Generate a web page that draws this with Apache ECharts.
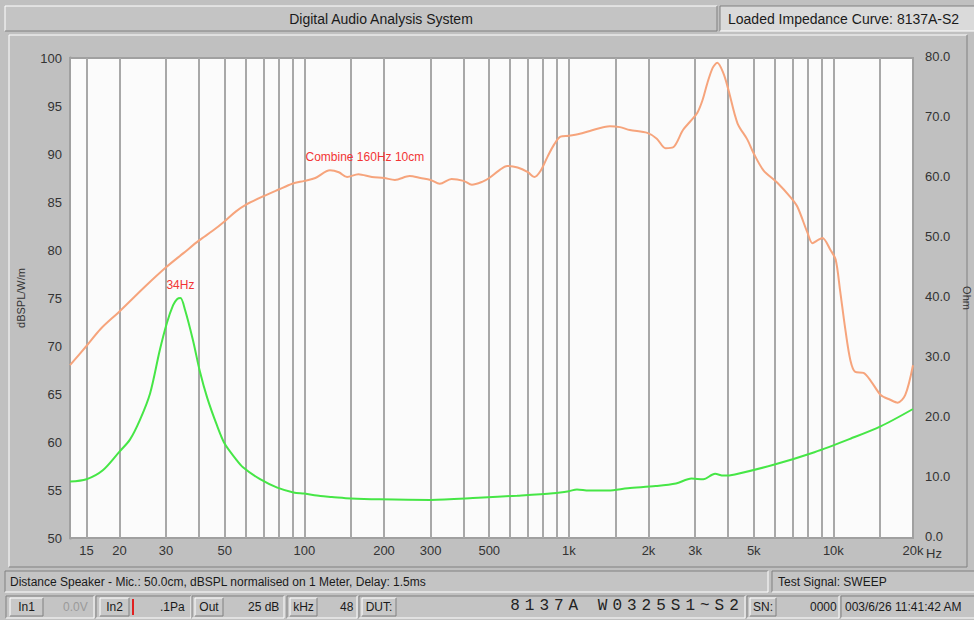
<!DOCTYPE html>
<html>
<head>
<meta charset="utf-8">
<script src="https://cdn.jsdelivr.net/npm/echarts@6/dist/echarts.min.js"></script>
<style>
  html, body { margin: 0; padding: 0; background: #c0c0c0; }
  #chart { width: 974px; height: 620px; }
</style>
</head>
<body>
<div id="chart"></div>
<script>
// Frequency response (dBSPL/W/m) of the combined driver
const splFreq = [13, 15, 17, 20, 25, 30, 35, 40, 45, 50, 55, 60, 70, 80, 90, 100, 110, 125, 135, 145,
  160, 180, 200, 220, 250, 275, 300, 325, 360, 400, 430, 470, 500, 545, 585, 640, 700, 740, 780, 830,
  880, 930, 1000, 1100, 1200, 1430, 1560, 1700, 1980, 2150, 2320, 2480, 2700, 2900, 3060, 3200, 3340,
  3500, 3640, 3840, 4010, 4340, 4730, 4990, 5440, 6140, 6880, 7310, 7980, 8340, 8700, 9090, 9750,
  10200, 10600, 11100, 11600, 12100, 13000, 13900, 15100, 16400, 17500, 18700, 20000];
const splDb = [68.0, 70.0, 71.8, 73.6, 76.2, 78.2, 79.7, 81.0, 82.0, 83.0, 84.0, 84.7, 85.6, 86.3, 86.9, 87.2, 87.5, 88.3, 88.1, 87.6,
  87.9, 87.6, 87.5, 87.3, 87.7, 87.5, 87.3, 86.9, 87.4, 87.2, 86.8, 87.1, 87.5, 88.3, 88.75, 88.6, 88.1, 87.6, 88.2, 89.7,
  91.0, 91.8, 91.9, 92.1, 92.4, 92.9, 92.8, 92.5, 92.2, 91.6, 90.6, 90.7, 92.5, 93.5, 94.3, 95.6, 97.4,
  99.0, 99.5, 98.4, 96.7, 93.2, 91.5, 90.1, 88.3, 87.0, 85.5, 84.5, 81.8, 80.7, 81.0, 81.25, 80.0,
  79.0, 75.8, 71.7, 68.5, 67.3, 67.2, 66.3, 64.9, 64.4, 64.1, 64.9, 68.0];

// Loaded impedance (Ohm)
const impFreq = [13, 15, 17.3, 20, 21.9, 23.9, 26.1, 28.4, 30.2, 31.9, 33, 34, 35.4, 37.9, 40.3, 42.9, 46.7, 50,
  55, 58.6, 68, 79, 91, 100, 115, 127, 150, 192, 300, 454, 637, 872, 1000, 1073, 1190, 1410, 1670, 2130, 2540,
  2910, 3220, 3570, 3840, 4240, 5990, 8480, 11600, 15080, 20000];
const impOhm = [9.4, 9.8, 11.3, 14.4, 16.4, 19.7, 24.1, 31.3, 35.8, 38.8, 39.8, 40.0, 38.0, 33.0, 27.7, 23.4, 18.8, 15.7,
  13.2, 11.8, 9.8, 8.4, 7.6, 7.4, 7.0, 6.85, 6.6, 6.45, 6.35, 6.7, 7.05, 7.45, 7.8, 8.1, 7.9, 7.9, 8.28, 8.66, 9.1,
  9.9, 9.8, 10.7, 10.4, 10.6, 12.25, 14.3, 16.55, 18.6, 21.5];

// Frequency grid and labels
const gridFreqs = [15, 20, 30, 40, 50, 60, 70, 80, 90, 100, 150, 200, 300, 400, 500, 600, 700, 800, 900,
  1000, 1500, 2000, 3000, 4000, 5000, 6000, 7000, 8000, 9000, 10000, 15000];
const freqTicks = [15, 20, 30, 50, 100, 200, 300, 500, 1000, 2000, 3000, 5000, 10000, 20000];
const freqTickLabels = ['15', '20', '30', '50', '100', '200', '300', '500', '1k', '2k', '3k', '5k', '10k', '20k'];

const curveNote = 'Combine 160Hz 10cm';
const dutText = '8137A W0325S1~S2';

const FONT = '"Liberation Sans", Arial, sans-serif';

function bevel(x, y, w, h, raised, fill) {
  const hi = raised ? '#ffffff' : '#808080';
  const lo = raised ? '#808080' : '#ffffff';
  return [
    { type: 'rect', shape: { x: x, y: y, width: w, height: h }, style: { fill: fill || '#c0c0c0' }, silent: true },
    { type: 'polyline', shape: { points: [[x, y + h], [x, y], [x + w, y]] }, style: { stroke: hi, lineWidth: 1, fill: null }, silent: true },
    { type: 'polyline', shape: { points: [[x + w, y], [x + w, y + h], [x, y + h]] }, style: { stroke: lo, lineWidth: 1, fill: null }, silent: true }
  ];
}
function label(text, x, y, opts) {
  opts = opts || {};
  return {
    type: 'text', silent: true, z: 10,
    style: {
      text: text, x: x, y: y,
      font: (opts.size || 12) + 'px ' + (opts.family || FONT),
      fill: opts.color || '#1a1a1a',
      textAlign: opts.align || 'left', align: opts.align || 'left',
      textVerticalAlign: 'middle', verticalAlign: 'middle'
    }
  };
}

const chrome = [];
// title bar
chrome.push(...bevel(5, 6, 712, 25, true, '#c4c4c4'));
chrome.push(label('Digital Audio Analysis System', 381, 19, { size: 14, align: 'center' }));
chrome.push(...bevel(720, 6, 260, 25, false, '#dadada'));
chrome.push(label('Loaded Impedance Curve: 8137A-S2', 728, 19, { size: 14 }));
// chart panel frame
chrome.push(...bevel(9, 35, 958, 532, true, '#c0c0c0'));
// status row 1
chrome.push(...bevel(5, 571, 763, 21, false, '#c4c4c4'));
chrome.push(label('Distance Speaker - Mic.: 50.0cm, dBSPL normalised on 1 Meter, Delay: 1.5ms', 10, 582, { size: 12 }));
chrome.push(...bevel(772, 571, 210, 21, false, '#c4c4c4'));
chrome.push(label('Test Signal: SWEEP', 778, 582, { size: 12 }));
// status row 2
const cells = [[6, 88], [96, 95], [192, 92], [287, 70], [359, 386], [747, 92], [841, 140]];
cells.forEach(c => chrome.push(...bevel(c[0], 596, c[1], 22, false, '#c4c4c4')));
const buttons = [['In1', 10, 33], ['In2', 100, 29], ['Out', 195, 28], ['kHz', 290, 27], ['DUT:', 362, 34], ['SN:', 750, 26]];
buttons.forEach(b => {
  chrome.push(...bevel(b[1], 598, b[2], 18, true, '#c8c8c8'));
  chrome.push(label(b[0], b[1] + b[2] / 2, 607, { size: 12, align: 'center' }));
});
chrome.push(label('0.0V', 63, 607, { size: 12, color: '#9a9a9a' }));
chrome.push({ type: 'rect', silent: true, z: 10, shape: { x: 132, y: 599, width: 2, height: 16 }, style: { fill: '#e02020' } });
chrome.push(label('.1Pa', 160, 607, { size: 12 }));
chrome.push(label('25 dB', 248, 607, { size: 12 }));
chrome.push(label('48', 340, 607, { size: 12 }));
chrome.push(label('0000', 810, 607, { size: 12 }));
chrome.push(label('003/6/26 11:41:42 AM', 845, 607, { size: 12 }));
dutText.split('').forEach((ch, i) => {
  chrome.push(label(ch, 515 + i * 14.6, 606, { size: 16, align: 'center', family: '"Liberation Mono", monospace', color: '#222' }));
});

const peakIdx = impOhm.indexOf(Math.max(...impOhm));

const option = {
  animation: false,
  backgroundColor: '#c0c0c0',
  graphic: { elements: chrome },
  grid: {
    left: 70, right: 61, top: 58, bottom: 82,
    outerBoundsMode: 'none', containLabel: false,
    show: true, backgroundColor: '#fbfbfb', borderColor: '#a0a0a0', borderWidth: 2, z: 1
  },
  xAxis: {
    type: 'log', logBase: 10, min: 13, max: 20000,
    name: 'Hz', nameLocation: 'end', nameGap: 13, nameMoveOverlap: false,
    nameTextStyle: { fontSize: 13, color: '#333', fontFamily: FONT, padding: [9, 0, 0, 0], align: 'left', verticalAlign: 'top' },
    axisLine: { show: true, lineStyle: { color: '#a0a0a0', width: 2 } },
    axisTick: { show: false },
    splitLine: { show: false },
    minorSplitLine: { show: false },
    axisLabel: {
      customValues: freqTicks,
      fontSize: 13, color: '#333', fontFamily: FONT, margin: 6,
      formatter: v => {
        const i = freqTicks.findIndex(t => Math.abs(t - v) / t < 1e-6);
        return i >= 0 ? freqTickLabels[i] : '';
      }
    }
  },
  yAxis: [
    {
      type: 'value', min: 50, max: 100, interval: 5,
      name: 'dBSPL/W/m', nameLocation: 'middle', nameGap: 44,
      nameTextStyle: { fontSize: 11, color: '#333', fontFamily: FONT },
      axisLine: { show: true, lineStyle: { color: '#9a9a9a', width: 3 } },
      axisTick: { show: false },
      axisLabel: { fontSize: 13, color: '#333', fontFamily: FONT, margin: 8 },
      splitLine: { show: true, lineStyle: { color: '#a6a6a6', width: 2 } }
    },
    {
      type: 'value', min: 0, max: 80, interval: 10, position: 'right',
      name: 'Ohm', nameLocation: 'middle', nameGap: 40, nameRotate: -90,
      nameTextStyle: { fontSize: 11, color: '#333', fontFamily: FONT },
      axisLine: { show: false },
      axisTick: { show: false },
      axisLabel: { fontSize: 13, color: '#333', fontFamily: FONT, margin: 12, verticalAlign: 'bottom', lineHeight: 13, padding: [0, 0, -5, 0], formatter: v => v.toFixed(1) },
      splitLine: { show: false }
    }
  ],
  series: [
    {
      name: 'SPL', type: 'line', yAxisIndex: 0, z: 3,
      data: splFreq.map((f, i) => [f, splDb[i]]),
      smooth: 0.3, showSymbol: false, symbol: 'none',
      lineStyle: { color: '#f6a47c', width: 2 },
      markLine: {
        z: 1, silent: true, symbol: 'none', animation: false,
        label: { show: false },
        lineStyle: { color: '#a8a8a8', width: 2, type: 'solid' },
        data: gridFreqs.map(f => ({ xAxis: f }))
      },
      markPoint: {
        silent: true, symbol: 'circle', symbolSize: 0,
        label: { show: true, position: 'right', distance: 0, color: '#f23535', fontSize: 12, fontFamily: FONT, formatter: () => curveNote },
        data: [{ coord: [101, 89.7] }]
      }
    },
    {
      name: 'Impedance', type: 'line', yAxisIndex: 1, z: 3,
      data: impFreq.map((f, i) => [f, impOhm[i]]),
      smooth: 0.3, showSymbol: false, symbol: 'none',
      lineStyle: { color: '#46e646', width: 2 },
      markPoint: {
        silent: true, symbol: 'circle', symbolSize: 0,
        label: { show: true, position: 'top', distance: 7, color: '#f23535', fontSize: 12, fontFamily: FONT, formatter: p => p.data.coord[0] + 'Hz' },
        data: [{ coord: [impFreq[peakIdx], impOhm[peakIdx]] }]
      }
    }
  ]
};

const chart = echarts.init(document.getElementById('chart'), null, { renderer: 'svg' });
chart.setOption(option);
</script>
</body>
</html>
